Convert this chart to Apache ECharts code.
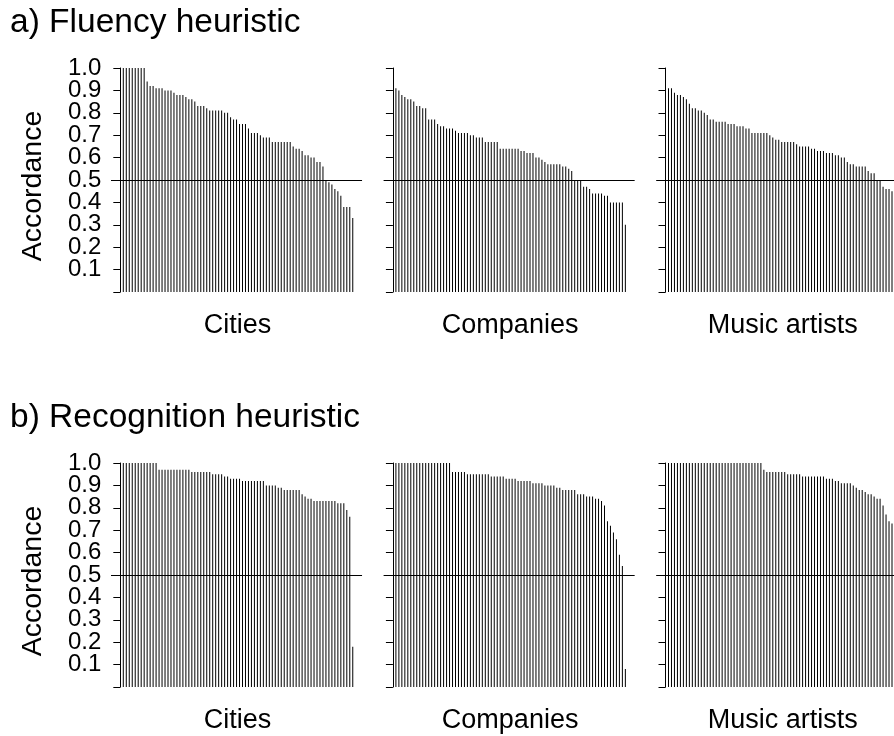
<!DOCTYPE html>
<html>
<head>
<meta charset="utf-8">
<script src="https://cdn.jsdelivr.net/npm/echarts@6/dist/echarts.min.js"></script>
<style>
html,body{margin:0;padding:0;background:#fff;}
#chart{width:894px;height:736px;}
</style>
</head>
<body>
<div id="chart"></div>
<script>
// ---- data (accordance per participant, sorted) ----
const panelTitles = ["a) Fluency heuristic", "b) Recognition heuristic"];
const domains = ["Cities", "Companies", "Music artists"];
const yTicks = [0, 0.1, 0.2, 0.3, 0.4, 0.5, 0.6, 0.7, 0.8, 0.9, 1.0];
const refLine = 0.5;

const fluencyCities = [1.00,1.00,1.00,1.00,1.00,1.00,1.00,1.00,
0.94,0.92,0.92,0.91,0.91,0.91,0.90,0.90,0.90,0.89,0.88,0.88,0.88,0.87,0.86,0.86,0.85,0.83,0.83,0.83,0.82,0.81,0.81,0.81,0.81,0.81,0.80,0.80,0.78,0.77,0.77,
0.75,0.75,0.75,0.73,0.71,0.71,0.71,0.70,0.69,0.69,0.69,0.67,0.67,0.67,0.67,0.67,0.67,0.67,0.65,0.64,0.64,0.63,0.61,0.61,0.60,0.60,0.58,0.58,0.56,0.50,0.49,0.48,0.46,0.45,0.43,0.38,0.38,0.38,0.33];

const fluencyCompanies = [0.91,0.90,0.88,0.87,0.86,0.86,0.85,0.83,0.83,0.82,0.82,0.77,0.77,0.77,0.75,0.74,0.74,0.73,0.73,0.73,0.72,0.71,0.71,0.71,0.71,0.70,0.70,0.69,0.69,0.69,0.67,0.67,0.67,0.67,0.67,0.64,0.64,0.64,
0.64,0.64,0.64,0.64,0.63,0.63,0.62,0.62,0.62,0.60,0.60,0.59,0.58,0.57,0.57,0.57,0.57,0.57,0.56,0.56,0.55,0.54,0.50,0.50,0.50,0.47,0.47,0.46,0.44,0.44,0.44,0.44,0.43,0.43,0.40,0.40,0.40,0.40,0.40,0.30];

const fluencyMusic = [0.91,0.91,0.89,0.88,0.88,0.87,0.86,0.84,0.82,0.82,0.81,0.81,0.80,0.79,0.77,0.77,0.76,0.76,0.76,0.76,0.75,0.75,0.75,0.74,0.74,0.74,0.73,0.73,0.71,0.71,0.71,0.71,0.71,0.71,0.70,0.69,0.68,0.68,
0.67,0.67,0.67,0.67,0.67,0.66,0.65,0.65,0.65,0.65,0.64,0.64,0.63,0.63,0.63,0.62,0.62,0.62,0.61,0.61,0.60,0.60,0.58,0.57,0.57,0.56,0.56,0.56,0.56,0.54,0.53,0.53,0.50,0.50,0.47,0.46,0.46,0.45];

const recognitionCities = [1.00,1.00,1.00,1.00,1.00,1.00,1.00,1.00,1.00,1.00,1.00,1.00,
0.97,0.97,0.97,0.97,0.97,0.97,0.97,0.97,0.97,0.97,0.97,
0.96,0.96,0.96,0.96,0.96,0.96,0.96,
0.95,0.95,0.95,0.95,0.94,0.94,0.93,0.93,0.93,0.93,
0.92,0.92,0.92,0.92,0.92,0.92,0.92,0.92,
0.90,0.90,0.90,0.90,0.89,0.89,0.88,0.88,0.88,0.88,0.88,0.88,
0.86,0.85,0.84,0.84,0.83,0.83,0.83,0.83,0.83,0.83,0.83,0.83,0.82,0.82,0.82,0.79,0.76,0.18];

const recognitionCompanies = [1.00,1.00,1.00,1.00,1.00,1.00,1.00,1.00,1.00,1.00,1.00,1.00,1.00,1.00,1.00,1.00,1.00,1.00,1.00,
0.96,0.96,0.96,0.96,0.96,
0.95,0.95,0.95,0.95,0.95,0.95,0.95,0.95,
0.94,0.94,0.94,0.94,0.94,0.93,0.93,0.93,0.93,
0.92,0.92,0.92,0.92,0.92,0.91,0.91,0.91,0.91,
0.90,0.90,0.90,0.90,0.89,0.89,0.88,0.88,0.88,0.88,0.88,
0.86,0.86,0.86,0.85,0.85,0.85,0.84,0.84,0.83,0.81,0.74,0.72,0.69,0.66,0.59,0.54,0.08];

const recognitionMusic = [1.00,1.00,1.00,1.00,1.00,1.00,1.00,1.00,1.00,1.00,1.00,1.00,1.00,1.00,1.00,1.00,
1.00,1.00,1.00,1.00,1.00,1.00,1.00,1.00,1.00,1.00,1.00,1.00,1.00,1.00,1.00,1.00,
0.97,0.96,0.96,0.96,0.96,0.96,0.96,0.96,
0.95,0.95,0.95,0.95,0.95,
0.94,0.94,0.94,0.94,0.94,0.94,0.94,0.94,
0.93,0.93,0.93,0.92,0.92,0.91,0.91,0.91,0.91,
0.90,0.89,0.88,0.88,0.87,0.86,0.86,0.85,0.84,0.84,0.81,0.77,0.74,0.73];

const panelData = [
  [fluencyCities, fluencyCompanies, fluencyMusic],
  [recognitionCities, recognitionCompanies, recognitionMusic]
];

// ---- layout ----
const FONT = "'Liberation Sans', Arial, Helvetica, sans-serif";
const STEP = 2.98;                       // px per participant
const firstBarX = [123.3, 395.9, 668.5]; // x of participant 1 in each column
const lineStartGap = 12.3;               // reference line starts this far left of bar 1
const axisGap = 7.0;                     // y axis sits this far left of bar 1
const rightPad = 9.3;                    // plot region extends past last bar (of 78)
const nFull = 78;
const CANVAS_W = 894;
const rowTop = [68, 463];
const rowH = 224;

function fmt(v) { return Math.abs(v) < 1e-9 ? '' : Number(v).toFixed(1); }
// labels split over two axis objects so that neighbouring labels are never auto-hidden
const lowerLabels = yTicks.filter(function (v, i) { return i % 2 === 0; });
const upperLabels = yTicks.filter(function (v, i) { return i % 2 === 1; });

const grids = [], xAxes = [], yAxes = [], series = [], graphics = [];
let gi = 0;
for (let r = 0; r < 2; r++) {
  for (let c = 0; c < 3; c++) {
    const left = firstBarX[c] - lineStartGap;
    let right = firstBarX[c] + (nFull - 1) * STEP + rightPad;
    if (right > CANVAS_W) right = CANVAS_W;
    grids.push({left: left, top: rowTop[r], width: right - left, height: rowH,
      containLabel: false, outerBoundsMode: 'none'});
    xAxes.push({gridIndex: gi, type: 'value',
      min: 1 - (firstBarX[c] - left) / STEP,
      max: 1 + (right - firstBarX[c]) / STEP,
      show: false});
    const yIdx = yAxes.length;
    yAxes.push({gridIndex: gi, type: 'value', min: 0, max: 1, interval: 0.1,
      offset: -(lineStartGap - axisGap),
      axisLine: {show: true, lineStyle: {color: '#000', width: 1}},
      axisTick: {show: true, length: 7, customValues: yTicks,
        lineStyle: {color: '#000', width: 1}},
      splitLine: {show: false},
      axisLabel: {show: c === 0, customValues: lowerLabels,
        showMinLabel: true, showMaxLabel: true, hideOverlap: false,
        color: '#000', fontSize: 24, fontFamily: FONT, margin: 15, formatter: fmt}
    });
    if (c === 0) {
      yAxes.push({gridIndex: gi, type: 'value', min: 0, max: 1, interval: 0.1,
        position: 'left',
        offset: -(lineStartGap - axisGap),
        axisLine: {show: false}, axisTick: {show: false}, splitLine: {show: false},
        axisLabel: {show: true, customValues: upperLabels,
          showMinLabel: true, showMaxLabel: true, hideOverlap: false,
          color: '#000', fontSize: 24, fontFamily: FONT, margin: 15, formatter: fmt}
      });
    }
    const vals = panelData[r][c];
    series.push({type: 'bar', xAxisIndex: gi, yAxisIndex: yIdx,
      data: vals.map(function (v, i) { return [i + 1, v]; }),
      barWidth: 1, itemStyle: {color: '#000'}, silent: true, animation: false,
      markLine: {silent: true, symbol: 'none', animation: false,
        label: {show: false},
        lineStyle: {color: '#000', width: 1, type: 'solid'},
        data: [{yAxis: refLine}]}
    });
    // domain label under each panel
    const centerX = (firstBarX[c] - lineStartGap + firstBarX[c] + (nFull - 1) * STEP + rightPad) / 2;
    graphics.push({type: 'text', x: centerX + 1, y: rowTop[r] + rowH + 34,
      style: {text: domains[c], fontSize: 27, fontFamily: FONT, fill: '#000',
        align: 'center', verticalAlign: 'middle'}});
    gi++;
  }
  graphics.push({type: 'text', x: 33, y: rowTop[r] + 118, rotation: Math.PI / 2,
    style: {text: 'Accordance', fontSize: 28.5, fontFamily: FONT, fill: '#000',
      align: 'center', verticalAlign: 'middle'}});
  graphics.push({type: 'text', x: 10, y: rowTop[r] - 45,
    style: {text: panelTitles[r], fontSize: 33.5, fontFamily: FONT, fill: '#000',
      align: 'left', verticalAlign: 'middle'}});
}

const chart = echarts.init(document.getElementById('chart'), null, {renderer: 'canvas'});
chart.setOption({
  animation: false,
  backgroundColor: '#fff',
  grid: grids,
  xAxis: xAxes,
  yAxis: yAxes,
  series: series,
  graphic: graphics
});
</script>
</body>
</html>
